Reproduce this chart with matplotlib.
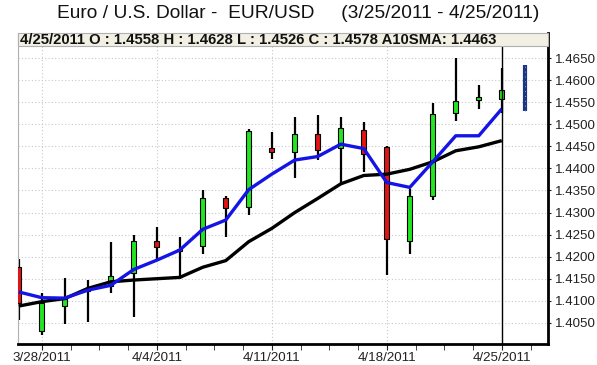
import matplotlib
matplotlib.use('Agg')
import matplotlib.pyplot as plt
from matplotlib.patches import Rectangle
import numpy as np

plt.rcParams['font.family'] = ['Liberation Sans', 'DejaVu Sans']

dates = ['3/25/2011', '3/28/2011', '3/29/2011', '3/30/2011', '3/31/2011', '4/1/2011',
         '4/4/2011', '4/5/2011', '4/6/2011', '4/7/2011', '4/8/2011',
         '4/11/2011', '4/12/2011', '4/13/2011', '4/14/2011', '4/15/2011',
         '4/18/2011', '4/19/2011', '4/20/2011', '4/21/2011', '4/22/2011', '4/25/2011']
opens = [1.4177, 1.4031, 1.4089, 1.4122, 1.4134, 1.4162,
         1.4235, 1.4213, 1.4225, 1.4332, 1.4313,
         1.4446, 1.4438, 1.4478, 1.4446, 1.4487,
         1.4448, 1.4236, 1.4338, 1.4525, 1.4554, 1.4558]
highs = [1.4194, 1.4117, 1.4151, 1.4148, 1.4234, 1.4249,
         1.4268, 1.4245, 1.4350, 1.4337, 1.4489,
         1.4483, 1.4517, 1.4521, 1.4516, 1.4505,
         1.4450, 1.4353, 1.4549, 1.4650, 1.4589, 1.4628]
lows = [1.4056, 1.4022, 1.4048, 1.4052, 1.4118, 1.4063,
        1.4192, 1.4150, 1.4207, 1.4245, 1.4294,
        1.4421, 1.4378, 1.4418, 1.4366, 1.4393,
        1.4158, 1.4207, 1.4328, 1.4508, 1.4534, 1.4526]
closes = [1.4094, 1.4095, 1.4105, 1.4126, 1.4157, 1.4235,
          1.4222, 1.4217, 1.4332, 1.4311, 1.4485,
          1.4438, 1.4478, 1.4442, 1.4491, 1.4433,
          1.4241, 1.4337, 1.4524, 1.4553, 1.4561, 1.4578]
fast_ma = [1.4120, 1.4107, 1.4106, 1.4124, 1.4135, 1.4171,
           1.4192, 1.4215, 1.4262, 1.4283, 1.4352,
           1.4387, 1.4419, 1.4427, 1.4455, 1.4445,
           1.4368, 1.4357, 1.4415, 1.4474, 1.4474, 1.4535]
sma10 = [1.4088, 1.4098, 1.4105, 1.4128, 1.4143, 1.4147,
         1.4150, 1.4153, 1.4176, 1.4191, 1.4234,
         1.4264, 1.4300, 1.4332, 1.4365, 1.4384,
         1.4387, 1.4398, 1.4415, 1.4440, 1.4449, 1.4463]
proj_low = 1.4530
proj_high = 1.4635
tick_labels = ['3/28/2011', '4/4/2011', '4/11/2011', '4/18/2011', '4/25/2011']
y_ticks = [1.4050, 1.4100, 1.4150, 1.4200, 1.4250, 1.4300, 1.4350,
           1.4400, 1.4450, 1.4500, 1.4550, 1.4600, 1.4650]

W, H = 597, 365
fig = plt.figure(figsize=(W / 100, H / 100), dpi=100)
L, R, T, B = 18.3, 548, 33, 344
ax = fig.add_axes([L / W, 1 - B / H, (R - L) / W, (B - T) / H])

x = np.arange(len(dates))
ax.set_xlim(-0.02, 23.01)
ax.set_ylim(1.4002, 1.4707)

# grid
for v in y_ticks:
    ax.axhline(v, color='#c8c8c8', lw=0.8, ls=(0, (1, 2)), zorder=0)
tick_pos = [dates.index(t) for t in tick_labels]
for p in tick_pos:
    ax.axvline(p, color='#c8c8c8', lw=0.8, ls=(0, (1, 2)), zorder=0)

# candles
bw = 0.2
for i in range(len(dates)):
    o, h, l, c = opens[i], highs[i], lows[i], closes[i]
    ax.vlines(x[i], l, h, color='black', lw=1.6, zorder=2)
    fc = '#22e622' if c >= o else '#e01515'
    ax.add_patch(Rectangle((x[i] - bw / 2, min(o, c)), bw, abs(c - o),
                           facecolor=fc, edgecolor='black', lw=0.8, zorder=3))

# moving averages
ax.plot(x, sma10, color='black', lw=2.4, zorder=4, solid_capstyle='butt')
ax.plot(x, fast_ma, color='#1414e6', lw=2.4, zorder=5, solid_capstyle='butt')

# current day line
ax.axvline(x[-1], color='black', lw=1.0, zorder=6)

# projection bar
px = len(dates)
ax.vlines(px, proj_low, proj_high, color='#1a3585', lw=3.0, zorder=5)
ax.vlines(px, proj_low, proj_high, color='#8fa0d0', lw=0.7, ls=(0, (1, 4)), zorder=6)

# header box
ax.add_patch(Rectangle((0, (B - 46) / (B - T)), 1, 1 - (B - 46) / (B - T),
                       transform=ax.transAxes, facecolor='#f2efe3',
                       edgecolor='#b0b0b0', lw=0.8, zorder=7, clip_on=False))
hdr = (f"{dates[-1]} O : {opens[-1]:.4f} H : {highs[-1]:.4f} L : {lows[-1]:.4f} "
       f"C : {closes[-1]:.4f} A10SMA: {sma10[-1]:.4f}")
ax.text(2 / (R - L), 1 - 6.5 / (B - T), hdr, transform=ax.transAxes, ha='left', va='center',
        fontsize=10.7, fontweight='bold', color='#111111', zorder=8)

# spines
ax.spines['top'].set_visible(False)
ax.spines['left'].set_color('#b0b0b0')
ax.spines['left'].set_linewidth(0.8)
ax.spines['bottom'].set_color('black')
ax.spines['bottom'].set_linewidth(2)
ax.spines['right'].set_color('black')
ax.spines['right'].set_linewidth(2)

# axes ticks
ax.yaxis.tick_right()
ax.set_yticks(y_ticks)
ax.set_yticklabels([f"{v:.4f}" for v in y_ticks])
ax.tick_params(axis='y', length=2, pad=3, labelsize=9.6, colors='#222222')
ax.set_xticks(tick_pos)
ax.set_xticklabels(tick_labels)
ax.set_xticks(np.arange(1, 23.01, 1.25), minor=True)
ax.tick_params(axis='x', which='major', length=4, pad=2, labelsize=9.6, colors='#222222')
ax.tick_params(axis='x', which='minor', length=4, color='#222222')

fig.text(0.5, 1 - 14 / H, "Euro / U.S. Dollar -  EUR/USD     (3/25/2011 - 4/25/2011)",
         ha='center', va='center', fontsize=13.8, color='#111111')

fig.savefig('out.png', dpi=100)
